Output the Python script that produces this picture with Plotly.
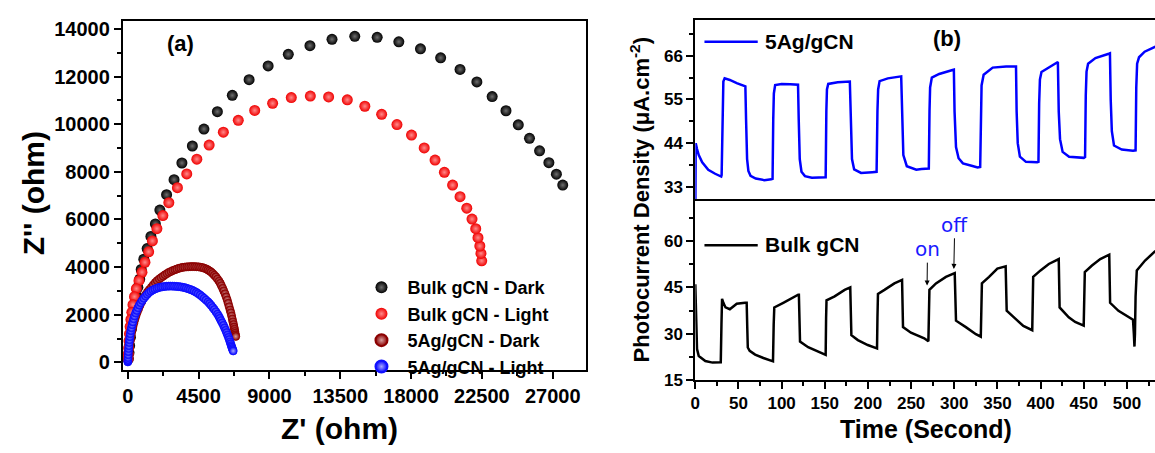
import plotly.graph_objects as go

W, H = 1155, 453
def px(x): return x / W
def py(y): return 1 - y / H

# ---------------- Panel (a): Nyquist data ----------------
bulk_dark_x = [27636, 27233, 26756, 26165, 25524, 24812, 24030, 23152, 22180, 21112, 19879, 18598,
               17222, 15846, 14423, 12976, 11576, 10200, 8919, 7709, 6642, 5693, 4839, 4104, 3440,
               2941, 2467, 2040, 1755, 1470, 1233, 1020, 854, 760, 640, 540, 450, 370, 300, 230, 170,
               120, 80, 40]
bulk_dark_y = [7443, 7900, 8385, 8883, 9408, 9973, 10565, 11158, 11777, 12302, 12786, 13163,
               13459, 13647, 13688, 13566, 13297, 12934, 12449, 11871, 11211, 10525, 9798, 9085, 8371,
               7672, 7039, 6393, 5814, 5289, 4778, 4334, 3903, 3500, 3150, 2800, 2450, 2100, 1750, 1400, 1050,
               700, 400, 150]

bulk_light_x = [22488, 22440, 22369, 22251, 22108, 21871, 21539, 21112, 20638, 20116, 19523, 18835,
                18028, 17103, 16131, 15063, 13948, 12762, 11600, 10390, 9204, 8065, 7022, 6073, 5171,
                4388, 3748, 3155, 2609, 2230, 1850, 1565, 1328, 1091, 901, 712, 546, 427, 332, 260, 200,
                150, 110, 80, 55, 35, 20]
bulk_light_y = [4266, 4576, 4886, 5236, 5612, 6016, 6474, 6958, 7443, 7981, 8493, 9004,
                9542, 9987, 10417, 10754, 11023, 11144, 11184, 11117, 10875, 10579, 10162, 9664, 9125,
                8533, 7914, 7335, 6703, 6164, 5612, 5101, 4643, 4199, 3782, 3432, 3096, 2759, 2423, 2100, 1800,
                1500, 1200, 900, 600, 350, 150]

ag_dark_x = [10, 25, 40, 60, 90, 120, 150, 190, 230, 280, 330, 390, 450, 520, 600, 690, 780, 890, 1000,
             1120, 1250, 1370, 1500, 1620, 1750, 1870, 2000, 2120, 2250, 2370, 2500, 2620, 2750, 2870,
             3000, 3120, 3250, 3370, 3500, 3620, 3750, 3870, 4000, 4120, 4250, 4370, 4500, 4620, 4750,
             4870, 5000, 5100, 5200, 5300, 5400, 5500, 5600, 5700, 5800, 5880, 5950, 6030, 6100, 6180,
             6250, 6320, 6380, 6440, 6500, 6550, 6600, 6640, 6680, 6720, 6750, 6780, 6800, 6820, 6840, 6860]
ag_dark_y = [50, 150, 300, 450, 600, 750, 900, 1050, 1200, 1350, 1500, 1650, 1800, 1950, 2100, 2250, 2400,
             2550, 2700, 2830, 2950, 3050, 3150, 3250, 3350, 3430, 3500, 3560, 3620, 3680, 3730, 3780,
             3820, 3860, 3890, 3920, 3950, 3970, 3990, 4000, 4010, 4015, 4020, 4022, 4020, 4015, 4010,
             3995, 3980, 3950, 3920, 3880, 3840, 3790, 3730, 3660, 3590, 3500, 3410, 3320, 3220, 3110,
             3000, 2880, 2750, 2620, 2480, 2340, 2200, 2080, 1950, 1820, 1700, 1590, 1480, 1390, 1300,
             1220, 1150, 1090]

ag_light_x = [5, 10, 15, 20, 30, 40, 55, 70, 90, 110, 135, 160, 195, 230, 275, 320, 375, 430, 500, 570,
              650, 730, 820, 920, 1020, 1130, 1240, 1350, 1470, 1600, 1720, 1850, 1970, 2100, 2220, 2350,
              2470, 2600, 2720, 2850, 2970, 3100, 3220, 3350, 3470, 3600, 3720, 3850, 3970, 4100, 4220,
              4350, 4470, 4600, 4720, 4850, 4970, 5100, 5200, 5300, 5400, 5500, 5600, 5700, 5780, 5850,
              5920, 6000, 6080, 6150, 6220, 6280, 6340, 6400, 6450, 6500, 6540, 6580, 6610, 6640, 6670, 6700]
ag_light_y = [20, 60, 120, 200, 320, 450, 580, 700, 830, 950, 1080, 1200, 1330, 1450, 1580, 1700, 1830,
              1950, 2070, 2180, 2290, 2400, 2500, 2600, 2690, 2780, 2860, 2930, 2990, 3040, 3080, 3110,
              3140, 3160, 3175, 3190, 3197, 3200, 3202, 3200, 3196, 3190, 3182, 3170, 3157, 3140, 3117,
              3090, 3062, 3030, 2988, 2940, 2888, 2830, 2762, 2690, 2617, 2540, 2467, 2390, 2306, 2220,
              2127, 2030, 1940, 1850, 1755, 1660, 1555, 1450, 1350, 1250, 1150, 1050, 955, 860, 780, 700,
              640, 580, 530, 480]

# ---------------- Panel (b): photocurrent data ----------------
t_ag = [0, 0.5, 2, 4, 8, 15, 23, 30,
        30.5, 31.5, 32.5, 34, 40, 48, 55, 58,
        58.8, 60, 61.5, 64, 70, 80, 88, 89.5,
        90.3, 91, 92.5, 100, 110, 119,
        119.8, 121, 123, 127, 135, 149, 151,
        151.8, 152.5, 154, 165, 179,
        180, 181.5, 184, 192, 205, 210,
        211, 211.8, 213.5, 223, 238.5,
        239.5, 241, 245, 256, 262, 269, 270.5,
        271.3, 272, 274, 282.5, 298, 299.5,
        300.3, 302, 305, 310, 320, 327, 330,
        330.8, 331.6, 334, 344.5, 360, 370, 371.5,
        372.2, 373.5, 376, 383, 396, 397.5,
        398.3, 399.2, 401, 410, 420,
        421, 422.5, 425.5, 433, 450, 451.5,
        452.3, 453.2, 455, 463.5, 479, 480.3,
        481.2, 482.5, 485, 494, 507, 510,
        510.8, 511.8, 514, 520.5, 533]
j_ag = [25, 44, 42.5, 41, 39.2, 37.3, 36.3, 35.6,
        36, 56, 59.5, 60.3, 59.9, 59.1, 58.5, 58.3,
        50, 40, 37, 35.8, 35.1, 34.7, 34.9, 35,
        50, 56.5, 58.6, 58.9, 58.8, 58.7,
        50, 40, 36.8, 35.7, 35.3, 35.3, 35.4,
        52, 57.5, 58.9, 59.3, 59.5,
        50, 40, 37.4, 36.5, 36.7, 36.8,
        52, 57.5, 59.6, 60.3, 60.8,
        50, 41, 38.2, 37.3, 37.5, 37.5, 37.6,
        52, 58, 60.5, 61.4, 62.4, 62.5,
        52, 43, 40.2, 38.9, 38.3, 37.9, 38,
        52, 58.5, 61.2, 63, 63.3, 63.4, 63.3,
        52, 44, 40.6, 39.3, 39.2, 39.3,
        54, 60, 61.9, 63, 64.4,
        52, 45, 41.8, 40.6, 40.3, 40.5,
        56, 62, 64, 65.4, 66.5, 66.6,
        55, 47, 43.4, 42.4, 42.1, 42.2,
        58, 64, 65.6, 67, 68.3]

t_bulk = [0, 0.8, 2, 4, 11.6, 20, 29.5,
          30.3, 31, 32.5, 35, 40, 48, 57.7, 59.5,
          60.2, 60.8, 63, 69.3, 78.9, 88.5, 90,
          90.8, 91.5, 101.9, 111.5, 119.2, 120,
          120.7, 121.3, 130.7, 140.3, 149.9, 151,
          151.5, 152, 161.4, 173, 179.5,
          180.2, 180.8, 188.3, 199.8, 209.5, 210.5,
          211, 211.6, 219.1, 230.6, 239.5,
          240, 240.6, 249.8, 265.2, 270,
          270.6, 271.2, 278.8, 290.3, 300.5,
          301.2, 302, 313.4, 325, 330.7,
          331.3, 332, 340.3, 349.9, 359.5,
          360.1, 360.7, 371, 380, 390.3,
          390.8, 391.4, 399.9, 409.5, 421,
          421.5, 422, 432.6, 440, 449.9,
          450.5, 451.2, 459.5, 469.1, 479.5,
          480, 480.5, 490.2, 500, 507,
          508, 508.7, 509.3,
          510, 511.4, 521, 533]
j_bulk = [46, 32, 25, 22.7, 21.1, 20.6, 20.7,
          33, 41.3, 40, 38.5, 37.9, 39.7, 40.0, 40.0,
          32, 25.5, 24.4, 23.2, 22.1, 21.1, 21,
          33, 38.5, 40.0, 41.6, 42.6, 42.6,
          34, 27.4, 25.6, 24.3, 23.2, 23.1,
          35, 40.8, 42.1, 44.2, 45.0,
          36, 29.5, 27.9, 26.3, 25.3, 25.2,
          35, 42.9, 44.2, 46.3, 47.4,
          40, 32.1, 30.3, 28.5, 27.5,
          36, 44.2, 46.3, 48.4, 49.6,
          42, 34.2, 32.1, 29.8, 29.0,
          38, 46.3, 48.4, 51.1, 51.8,
          44, 37.4, 34.8, 32.5, 31.1,
          40, 48.4, 50.5, 52.6, 54.2,
          46, 38.5, 35.3, 33.8, 32.6,
          42, 50.0, 52.1, 54.2, 55.6,
          48, 40.0, 37.4, 35.6, 34.5,
          30, 25.8, 30,
          42, 50.5, 53.7, 56.8]

x_ticks_a = [0, 4500, 9000, 13500, 18000, 22500, 27000]
y_ticks_a = [0, 2000, 4000, 6000, 8000, 10000, 12000, 14000]
x_ticks_b = [0, 50, 100, 150, 200, 250, 300, 350, 400, 450, 500]
y_ticks_top = [33, 44, 55, 66]
y_ticks_bot = [15, 30, 45, 60]

FONT = "Liberation Sans"

fig = go.Figure()

def sphere(name, xs, ys, col, grad, size, lw=0, lc=None):
    fig.add_trace(go.Scatter(
        x=xs, y=ys, mode='markers', name=name, xaxis='x', yaxis='y',
        marker=dict(size=size, color=col, gradient=dict(type='radial', color=grad),
                    line=dict(width=lw, color=lc or col))))

sphere('Bulk gCN - Dark', bulk_dark_x, bulk_dark_y, '#000000', '#6e6e6e', 11)
sphere('Bulk gCN - Light', bulk_light_x, bulk_light_y, '#f00000', '#ff8a8a', 11)
sphere('5Ag/gCN - Dark', ag_dark_x, ag_dark_y, '#8b0000', '#d8a0a0', 8, 0.8, '#8b0000')
sphere('5Ag/gCN - Light', ag_light_x, ag_light_y, '#0000ff', '#a8a8ff', 8, 0.8, '#1010ff')

fig.add_trace(go.Scatter(x=t_ag, y=j_ag, mode='lines', line=dict(color='#0000ff', width=2.5),
                         xaxis='x2', yaxis='y2', showlegend=False))
fig.add_trace(go.Scatter(x=t_bulk, y=j_bulk, mode='lines', line=dict(color='#000000', width=2.5),
                         xaxis='x3', yaxis='y3', showlegend=False))

axis_common = dict(showline=True, linecolor='black', linewidth=2, showgrid=False, zeroline=False,
                   ticks='outside', ticklen=7, tickwidth=2, tickcolor='black')

def minor(d):
    return dict(ticks='outside', ticklen=4, tickwidth=2, tickcolor='black', dtick=d, tick0=0)

fig.update_layout(
    width=W, height=H, margin=dict(l=0, r=0, t=0, b=0),
    paper_bgcolor='white', plot_bgcolor='white',
    font=dict(family=FONT, color='black', weight='bold'),
    xaxis=dict(domain=[px(118.3), px(583.3)], range=[-316, 29100], anchor='y', mirror=True,
               tickvals=x_ticks_a, ticktext=[str(v) for v in x_ticks_a], tickfont=dict(size=20),
               minor=minor(2250), **axis_common),
    yaxis=dict(domain=[py(378.3), py(18.3)], range=[-339, 14343], anchor='x', mirror=True,
               tickvals=y_ticks_a, ticktext=[str(v) for v in y_ticks_a], tickfont=dict(size=20),
               minor=minor(1000), **axis_common),
    xaxis2=dict(domain=[px(693.3), 1], range=[0, 532.5], anchor='y2', mirror=True, matches='x3',
                showticklabels=False, showline=True, linecolor='black', linewidth=2, showgrid=False,
                zeroline=False, ticks=''),
    yaxis2=dict(domain=[py(202), py(17)], range=[29.9, 75.1], anchor='x2',
                tickvals=y_ticks_top, ticktext=[str(v) for v in y_ticks_top], tickfont=dict(size=17),
                minor=minor(5.5), **axis_common),
    xaxis3=dict(domain=[px(693.3), 1], range=[0, 532.5], anchor='y3', mirror=False,
                tickvals=x_ticks_b, ticktext=[str(v) for v in x_ticks_b], tickfont=dict(size=17),
                minor=minor(25), **axis_common),
    yaxis3=dict(domain=[py(388), py(202)], range=[15, 73.6], anchor='x3',
                tickvals=y_ticks_bot, ticktext=[str(v) for v in y_ticks_bot], tickfont=dict(size=17),
                minor=minor(7.5), **axis_common),
    legend=dict(x=px(352), y=py(274), xanchor='left', yanchor='top', bgcolor='rgba(0,0,0,0)',
                font=dict(size=18, family=FONT, weight='bold'), itemsizing='constant',
                tracegroupgap=0, itemwidth=42),
)

def A(text, x, y, size, **kw):
    d = dict(text=text, x=x, y=y, xref='paper', yref='paper', showarrow=False,
             xanchor='center', yanchor='middle', font=dict(size=size, family=FONT, weight='bold'))
    d.update(kw)
    return d

onoff_font = dict(size=20, family='DejaVu Sans', color='#1a1aff', weight='normal')
ann = [
    A("Z'' (ohm)", px(29), py(196), 30, textangle=-90),
    A("Z' (ohm)", px(336), py(438), 30),
    A("Photocurrent Density (μA.cm<sup>-2</sup>)", px(638), py(203), 22, textangle=-90),
    A("Time (Second)", px(925), py(439), 25),
    A("(a)", px(176), py(42), 22),
    A("(b)", px(946), py(37), 22),
    A("5Ag/gCN", px(761), py(40), 21, xanchor='left'),
    A("Bulk gCN", px(761), py(249), 21, xanchor='left'),
    # "on" / "off" labels with their arrows (text sits at the arrow tail)
    dict(text="on", x=268.5, y=45.6, ax=269, ay=57.4, xref='x3', yref='y3', axref='x3', ayref='y3',
         showarrow=True, arrowhead=2, arrowsize=1, arrowwidth=1, arrowcolor='black', standoff=0,
         font=onoff_font),
    dict(text="off", x=299.5, y=51.0, ax=300.5, ay=65.3, xref='x3', yref='y3', axref='x3', ayref='y3',
         showarrow=True, arrowhead=2, arrowsize=1, arrowwidth=1, arrowcolor='black', standoff=0,
         font=onoff_font),
]
fig.update_layout(annotations=ann)

fig.update_layout(shapes=[
    dict(type='line', xref='paper', yref='paper', x0=px(702.5), x1=px(756), y0=py(40), y1=py(40),
         line=dict(color='#0000ff', width=2.5)),
    dict(type='line', xref='paper', yref='paper', x0=px(702.5), x1=px(756), y0=py(249.3), y1=py(249.3),
         line=dict(color='#000000', width=2.5)),
])

fig.write_html("out.html")
